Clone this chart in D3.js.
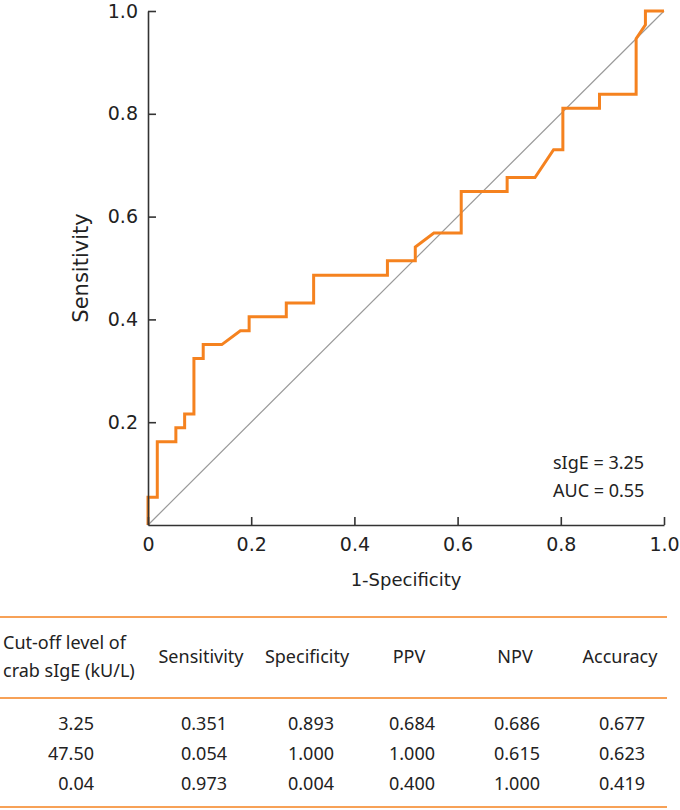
<!doctype html>
<html lang="en">
  <head>
    <meta charset="utf-8">
    <title>ROC curve - crab sIgE</title>
    <style>
      body { margin: 0; background: #fff; }
      svg text { fill: #222; }
    </style>
  </head>
  <body>
    <script src="https://cdn.jsdelivr.net/npm/d3@7"></script>
    <script>
      // ROC points (1-specificity, sensitivity)
      var fpr = [0, 0, 0.018, 0.018, 0.054, 0.054, 0.071, 0.071, 0.089, 0.089, 0.107, 0.107,
                 0.143, 0.179, 0.196, 0.196, 0.268, 0.268, 0.321, 0.321, 0.464, 0.464,
                 0.518, 0.518, 0.554, 0.607, 0.607, 0.696, 0.696, 0.750, 0.786, 0.804,
                 0.804, 0.875, 0.875, 0.946, 0.946, 0.964, 0.964, 1.0];
      var tpr = [0, 0.054, 0.054, 0.162, 0.162, 0.189, 0.189, 0.216, 0.216, 0.324, 0.324, 0.351,
                 0.351, 0.378, 0.378, 0.405, 0.405, 0.432, 0.432, 0.486, 0.486, 0.514,
                 0.514, 0.541, 0.568, 0.568, 0.649, 0.649, 0.676, 0.676, 0.730, 0.730,
                 0.811, 0.811, 0.838, 0.838, 0.946, 0.973, 1.0, 1.0];

      var xTicks = [0, 0.2, 0.4, 0.6, 0.8, 1.0];
      var yTicks = [0.2, 0.4, 0.6, 0.8, 1.0];
      var annotation = ["sIgE = 3.25", "AUC = 0.55"];

      // table below the chart
      var headers     = ["Sensitivity", "Specificity", "PPV", "NPV", "Accuracy"];
      var cutoffs     = ["3.25", "47.50", "0.04"];
      var sensitivity = [0.351, 0.054, 0.973];
      var specificity = [0.893, 1.000, 0.004];
      var ppv         = [0.684, 1.000, 0.400];
      var npv         = [0.686, 0.615, 1.000];
      var accuracy    = [0.677, 0.623, 0.419];

      var orange = "#f5821f";

      var svg = d3.select("body")
        .append("svg")
        .attr("width", 680)
        .attr("height", 810);

      var x = d3.scaleLinear().domain([0, 1]).range([148, 664]);
      var y = d3.scaleLinear().domain([0, 1]).range([525, 11]);

      // reference diagonal
      svg.append("line")
        .attr("x1", x(0)).attr("y1", y(0))
        .attr("x2", x(1)).attr("y2", y(1))
        .attr("stroke", "#9a9a9a")
        .attr("stroke-width", 1.2);

      var pts = fpr.map(function(f, i){ return [f, tpr[i]]; });
      var line = d3.line()
        .x(function(d){ return x(d[0]); })
        .y(function(d){ return y(d[1]); });

      svg.append("path")
        .datum(pts)
        .attr("d", line)
        .attr("fill", "none")
        .attr("stroke", orange)
        .attr("stroke-width", 3)
        .attr("stroke-linejoin", "miter");

      var tickFont = "'DejaVu Sans', sans-serif";

      var yAxis = svg.append("g")
        .attr("transform", "translate(" + x(0) + ",0)")
        .call(d3.axisLeft(y).tickValues(yTicks).tickFormat(d3.format(".1f"))
          .tickSizeInner(-8).tickSizeOuter(0).tickPadding(10));

      var xAxis = svg.append("g")
        .attr("transform", "translate(0," + y(0) + ")")
        .call(d3.axisBottom(x).tickValues(xTicks)
          .tickFormat(function(d){ return d === 0 ? "0" : d3.format(".1f")(d); })
          .tickSizeInner(-8).tickSizeOuter(0).tickPadding(13));

      [xAxis, yAxis].forEach(function(g){
        g.select(".domain").attr("stroke", "#333").attr("stroke-width", 1.6);
        g.selectAll(".tick line").attr("stroke", "#333").attr("stroke-width", 1.6);
        g.selectAll(".tick text")
          .attr("fill", "#222")
          .style("font-family", tickFont)
          .style("font-size", "19px");
      });

      var textFont = "'Noto Sans', 'Open Sans', sans-serif";

      svg.append("text")
        .attr("transform", "translate(81," + ((y(0) + y(1)) / 2) + ") rotate(-90)")
        .attr("text-anchor", "middle")
        .attr("dominant-baseline", "central")
        .style("font-family", tickFont)
        .style("font-size", "21px")
        .text("Sensitivity");

      svg.append("text")
        .attr("x", (x(0) + x(1)) / 2)
        .attr("y", 586)
        .attr("text-anchor", "middle")
        .style("font-family", tickFont)
        .style("font-size", "18px")
        .text("1-Specificity");

      svg.selectAll(".annot")
        .data(annotation)
        .enter()
        .append("text")
        .attr("class", "annot")
        .attr("x", 553)
        .attr("y", function(d, i){ return 469 + i * 28; })
        .style("font-family", textFont)
        .style("font-size", "18px")
        .text(function(d){ return d; });

      // table
      var tbl = svg.append("g").style("font-family", textFont).style("font-size", "18px");
      [617, 698, 807].forEach(function(ly){
        tbl.append("line")
          .attr("x1", 0).attr("x2", 667)
          .attr("y1", ly).attr("y2", ly)
          .attr("stroke", orange)
          .attr("stroke-width", 1.6);
      });

      tbl.append("text").attr("x", 3).attr("y", 649).text("Cut-off level of");
      tbl.append("text").attr("x", 3).attr("y", 677).text("crab sIgE (kU/L)");

      var headCenters = [201, 307, 409, 515, 620];
      tbl.selectAll(".head")
        .data(headers)
        .enter()
        .append("text")
        .attr("class", "head")
        .attr("x", function(d, i){ return headCenters[i]; })
        .attr("y", 663)
        .attr("text-anchor", "middle")
        .text(function(d){ return d; });

      var colRight = [94, 227, 334, 435, 540, 645];
      var rowY = [730, 760, 790];
      var cols = [cutoffs, sensitivity, specificity, ppv, npv, accuracy];
      var fmt = d3.format(".3f");

      cols.forEach(function(col, c){
        tbl.selectAll(".c" + c)
          .data(col)
          .enter()
          .append("text")
          .attr("class", "c" + c)
          .attr("x", colRight[c])
          .attr("y", function(d, r){ return rowY[r]; })
          .attr("text-anchor", "end")
          .text(function(d){ return c === 0 ? d : fmt(d); });
      });
    </script>
  </body>
</html>
